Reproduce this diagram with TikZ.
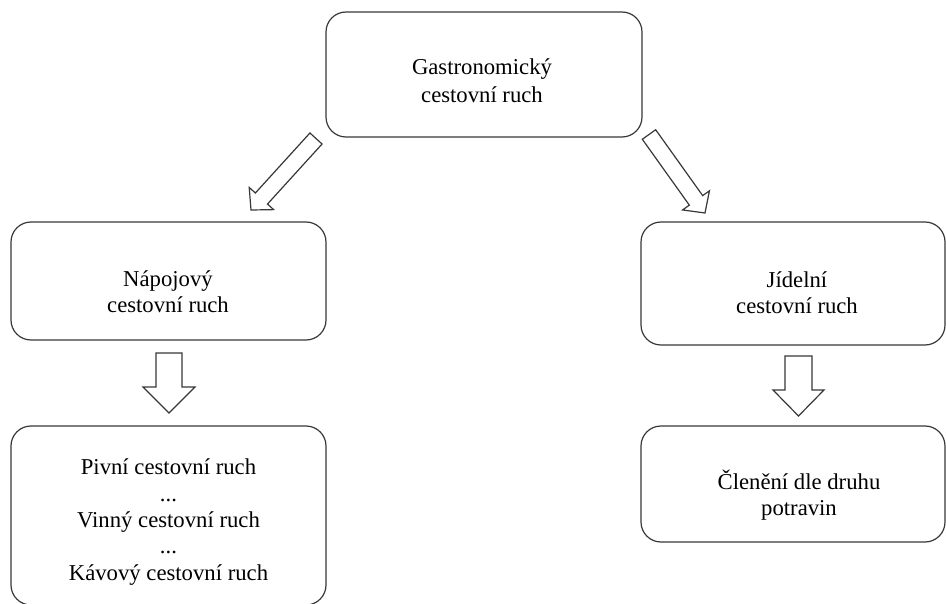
\documentclass[tikz,border=0pt]{standalone}
\usepackage{fontspec}
\setmainfont{Liberation Serif}
\usetikzlibrary{calc}
\tikzset{
  box/.style={draw=black!78, line width=1.2pt, rounded corners=20pt, rectangle, inner sep=0pt},
  txt/.style={align=center, anchor=base, inner sep=0pt, font=\fontsize{22.7}{27}\selectfont},
  arrowline/.style={draw=black!78, line width=1.2pt, line join=miter, fill=white}
}
\newcommand{\fatarrow}[5]{%
  \coordinate (fa-h) at ($(#2)!#5!(#1)$);
  \draw[arrowline] ($(#1)!#3!90:(#2)$) -- ($(fa-h)!#3!-90:(#1)$) -- ($(fa-h)!#4!-90:(#1)$) -- (#2) -- ($(fa-h)!#4!90:(#1)$) -- ($(fa-h)!#3!90:(#1)$) -- ($(#1)!#3!-90:(#2)$) -- cycle;
}
\begin{document}
\begin{tikzpicture}[x=1pt,y=-1pt]
\useasboundingbox (0,0) rectangle (946,604);
% boxes
\node[box, minimum width=316pt, minimum height=125pt] (top) at (484,74.5) {};
\node[box, minimum width=315pt, minimum height=118pt] (nap) at (168.5,281) {};
\node[box, minimum width=304pt, minimum height=123pt] (jid) at (793,283.5) {};
\node[box, minimum width=315pt, minimum height=179pt] (piv) at (168.5,515.5) {};
\node[box, minimum width=304pt, minimum height=116pt] (cle) at (793,484) {};
% texts (anchor base = baseline of the last line)
\node[txt, font=\fontsize{22.7}{28}\selectfont] (topt) at (482,103) {Gastronomický\\cestovní ruch};
\node[txt, font=\fontsize{22.7}{26.7}\selectfont] (napt) at (168,313) {Nápojový\\cestovní ruch};
\node[txt, font=\fontsize{22.7}{26.7}\selectfont] (jidt) at (797,314) {Jídelní\\cestovní ruch};
\node[txt, font=\fontsize{22.7}{26.3}\selectfont] (pivt) at (168.5,580) {Pivní cestovní ruch\\...\\Vinný cestovní ruch\\...\\Kávový cestovní ruch};
\node[txt, font=\fontsize{22.7}{25.5}\selectfont] (clet) at (799,515) {Členění dle druhu\\potravin};
% arrow end points
\coordinate (a1s) at (316,138.5);
\coordinate (a1e) at (251,210);
\coordinate (a2s) at (649,134.5);
\coordinate (a2e) at (705,213);
\coordinate (a3s) at (169,353);
\coordinate (a3e) at (169,413);
\coordinate (a4s) at (798.5,356);
\coordinate (a4e) at (798.5,416);
\fatarrow{a1s}{a1e}{8.2pt}{16.5pt}{15.5pt}
\fatarrow{a2s}{a2e}{8.2pt}{16.5pt}{15.5pt}
\fatarrow{a3s}{a3e}{13pt}{26pt}{26pt}
\fatarrow{a4s}{a4e}{13.5pt}{25.5pt}{26pt}
\end{tikzpicture}
\end{document}
